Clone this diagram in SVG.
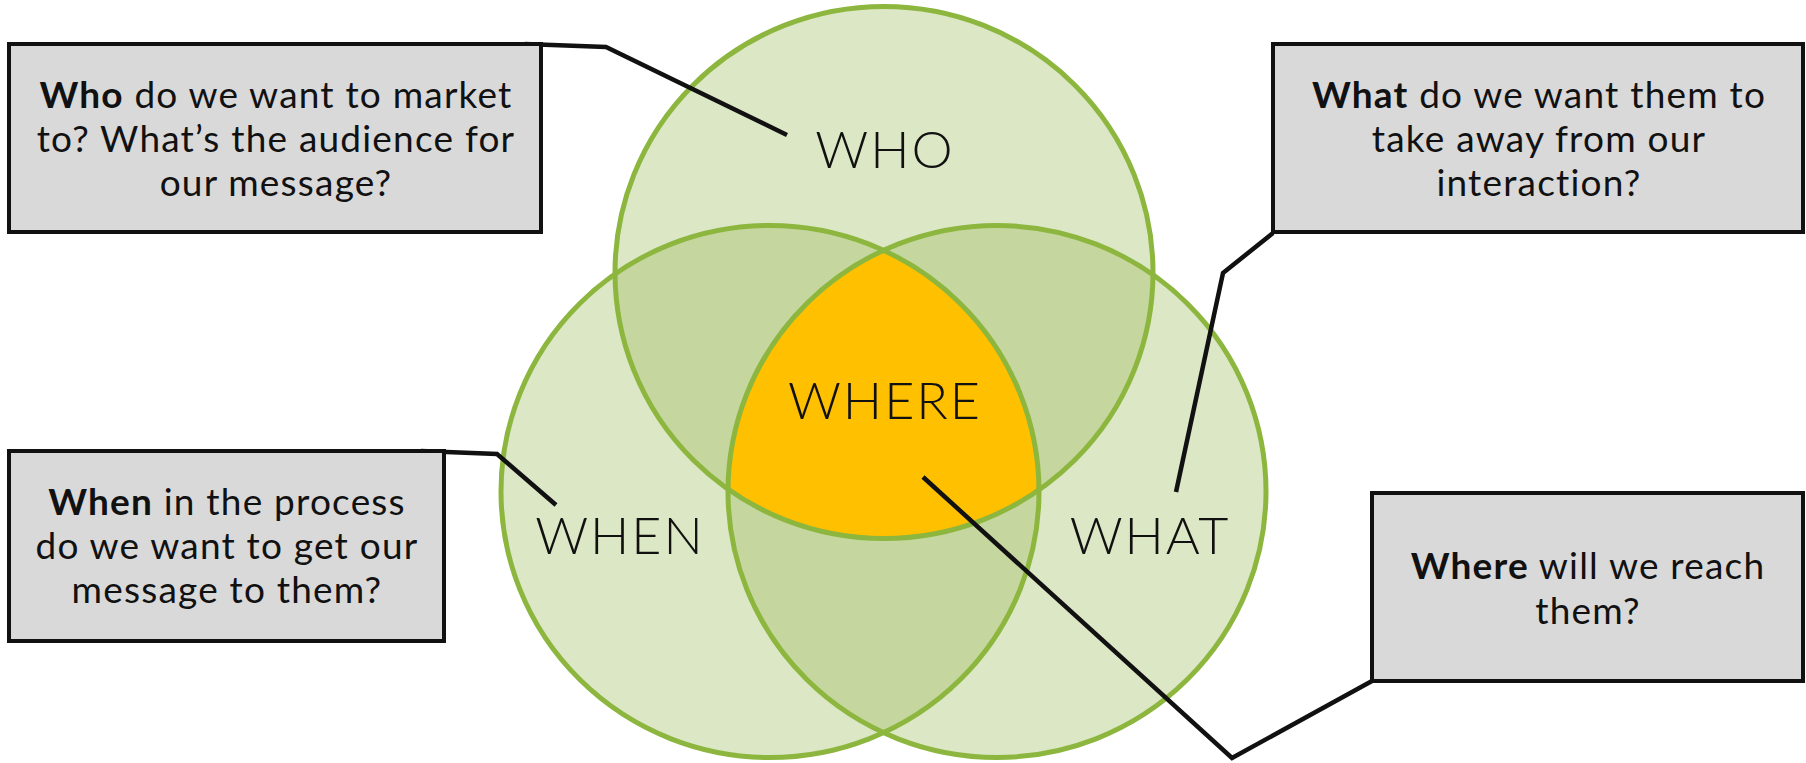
<svg xmlns="http://www.w3.org/2000/svg" width="1806" height="763" viewBox="0 0 1806 763">
<style>
.fillc{fill:#9BBB59;fill-opacity:0.35;stroke:none}
.ring{fill:none;stroke:#8DB63F;stroke-width:5}
.lbl{font-family:Lato,"Open Sans",sans-serif;font-size:52px;font-weight:300;fill:#111;text-anchor:middle;letter-spacing:2px}
.box{fill:#D9D9D9;stroke:#111;stroke-width:4}
.bt{font-family:Lato,"Open Sans",sans-serif;font-size:37px;fill:#111;text-anchor:middle;letter-spacing:1.2px}
.bt tspan.b{font-weight:700}
.con{fill:none;stroke:#111;stroke-width:4.5;stroke-linejoin:miter}
</style>
<defs>
<clipPath id="cWho"><ellipse cx="884" cy="272.5" rx="269" ry="266"/></clipPath>
<clipPath id="cWhat"><ellipse cx="997" cy="491.5" rx="269" ry="266"/></clipPath>
</defs>
<g id="venn">
<ellipse class="fillc" cx="884" cy="272.5" rx="269" ry="266"/>
<ellipse class="fillc" cx="770" cy="491.5" rx="269" ry="266"/>
<ellipse class="fillc" cx="997" cy="491.5" rx="269" ry="266"/>
<g clip-path="url(#cWho)"><g clip-path="url(#cWhat)"><ellipse cx="770" cy="491.5" rx="269" ry="266" fill="#FFC000"/></g></g>
<ellipse class="ring" cx="884" cy="272.5" rx="269" ry="266"/>
<ellipse class="ring" cx="770" cy="491.5" rx="269" ry="266"/>
<ellipse class="ring" cx="997" cy="491.5" rx="269" ry="266"/>
</g>
<g id="label-who"><text class="lbl" x="885" y="168">WHO</text></g>
<g id="label-where"><text class="lbl" x="885" y="419">WHERE</text></g>
<g id="label-when"><text class="lbl" x="620" y="554">WHEN</text></g>
<g id="label-what"><text class="lbl" x="1150" y="554">WHAT</text></g>
<g id="connectors">
<polyline class="con" points="525,44 606,47 787,135"/>
<polyline class="con" points="421,451 497,454 556,505"/>
<polyline class="con" points="1273,233 1223,273 1176,492"/>
<polyline class="con" points="1372,681 1232,758 923,477"/>
</g>
<g id="box-who">
<rect class="box" x="9" y="44" width="532" height="188"/>
<text class="bt" x="276" y="108"><tspan class="b">Who</tspan> do we want to market</text>
<text class="bt" x="276" y="152">to? What’s the audience for</text>
<text class="bt" x="276" y="196">our message?</text>
</g>
<g id="box-what">
<rect class="box" x="1273" y="44" width="530" height="188"/>
<text class="bt" x="1539" y="108"><tspan class="b">What</tspan> do we want them to</text>
<text class="bt" x="1539" y="152">take away from our</text>
<text class="bt" x="1539" y="196">interaction?</text>
</g>
<g id="box-when">
<rect class="box" x="9" y="451" width="435" height="190"/>
<text class="bt" x="227" y="515"><tspan class="b">When</tspan> in the process</text>
<text class="bt" x="227" y="559">do we want to get our</text>
<text class="bt" x="227" y="603">message to them?</text>
</g>
<g id="box-where">
<rect class="box" x="1372" y="493" width="431" height="188"/>
<text class="bt" x="1588" y="579"><tspan class="b">Where</tspan> will we reach</text>
<text class="bt" x="1588" y="624">them?</text>
</g>
</svg>
